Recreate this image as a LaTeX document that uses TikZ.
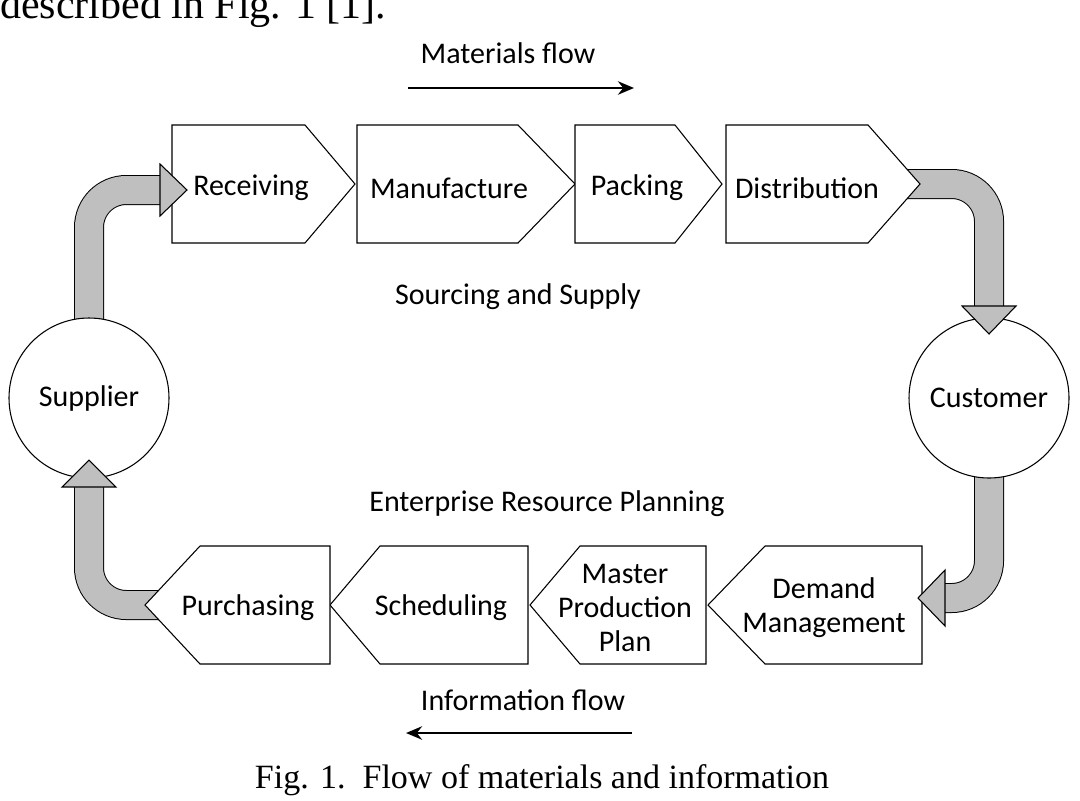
\documentclass[tikz,border=0pt]{standalone}
\usepackage{fontspec}
\usetikzlibrary{arrows.meta}
\setmainfont{Carlito}
\newfontfamily\serif{Liberation Serif}
\begin{document}
\begin{tikzpicture}[x=0.75pt,y=-0.75pt,
  lbl/.style={font=\fontsize{22.5}{25.5}\selectfont, align=center, inner sep=0},
  box/.style={draw=black, fill=white, line width=0.8pt},
  circ/.style={draw=black, fill=white, circle, minimum size=120pt, line width=0.8pt, font=\fontsize{22.5}{25}\selectfont},
  flowA/.style={line width=22.5pt, black},
  flowB/.style={line width=21pt, black!25},
  head/.style={fill=black!25, draw=black, line width=0.8pt},
  fa/.style={-{Stealth[length=12pt,width=10pt]}, line width=2.2pt}]
\useasboundingbox (0,0) rectangle (1080,800);
\clip (0,0) rectangle (1080,800);
\node[anchor=base west, font=\serif\fontsize{31.5}{34}\selectfont, inner sep=0] (top) at (0,18) {described in Fig. 1 [1].};
% thick arrows
\foreach \s in {flowA,flowB}{
 \draw[\s, rounded corners=28] (89,335) |- (162,190);
 \draw[\s, rounded corners=28] (895,184) -| (989,307);
 \draw[\s, rounded corners=28] (989,470) |- (944,598);
 \draw[\s, rounded corners=28] (170,605) -| (89,487);
}
% circles
\node[circ] (sup) at (89,398) {Supplier};
\node[circ] (cus) at (989,398) {Customer};
% top chevrons
\draw[box] (172,125) -- (305,125) -- (355,184) -- (305,243) -- (172,243) -- cycle;
\draw[box] (357,125) -- (518,125) -- (575,184) -- (518,243) -- (357,243) -- cycle;
\draw[box] (575,125) -- (675,125) -- (722,184) -- (675,243) -- (575,243) -- cycle;
\draw[box] (726,125) -- (868,125) -- (920,184) -- (868,243) -- (726,243) -- cycle;
% bottom chevrons
\draw[box] (922,546) -- (765,546) -- (708,605) -- (765,664) -- (922,664) -- cycle;
\draw[box] (706,546) -- (580,546) -- (530,605) -- (580,664) -- (706,664) -- cycle;
\draw[box] (528,546) -- (380,546) -- (330,605) -- (380,664) -- (528,664) -- cycle;
\draw[box] (330,546) -- (200,546) -- (145,605) -- (200,664) -- (330,664) -- cycle;
% arrow heads on top
\draw[head] (160,164) -- (187,190) -- (160,216) -- cycle;
\draw[head] (962,306) -- (1016,306) -- (989,334) -- cycle;
\draw[head] (945,570) -- (918,598) -- (945,626) -- cycle;
\draw[head] (62,487) -- (116,487) -- (89,460) -- cycle;
\node[lbl] (rec) at (251,188) {Receiving};
\node[lbl] (man) at (449,188) {Manufacture};
\node[lbl] (pac) at (637,188) {Packing};
\node[lbl] (dis) at (807,188) {Distribution};
\node[lbl] (dem) at (824,608) {Demand\\Management};
\node[lbl] (mpp) at (625,608) {Master\\Production\\Plan};
\node[lbl] (sch) at (441,608) {Scheduling};
\node[lbl] (pur) at (248,608) {Purchasing};
% texts
\node[lbl] (mf) at (508,53) {Materials flow};
\coordinate (mfa) at (408,88); \coordinate (mfb) at (634,88);
\draw[fa] (mfa) -- (mfb);
\node[lbl] (ss) at (518,297) {Sourcing and Supply};
\node[lbl] (erp) at (547,504) {Enterprise Resource Planning};
\node[lbl] (inf) at (523,700) {Information flow};
\coordinate (ifa) at (632,733); \coordinate (ifb) at (406,733);
\draw[fa] (ifa) -- (ifb);
\node[font=\serif\fontsize{25.5}{28}\selectfont, inner sep=0] (cap) at (542,780) {Fig. 1.\ \ Flow of materials and information};
\end{tikzpicture}
\end{document}
